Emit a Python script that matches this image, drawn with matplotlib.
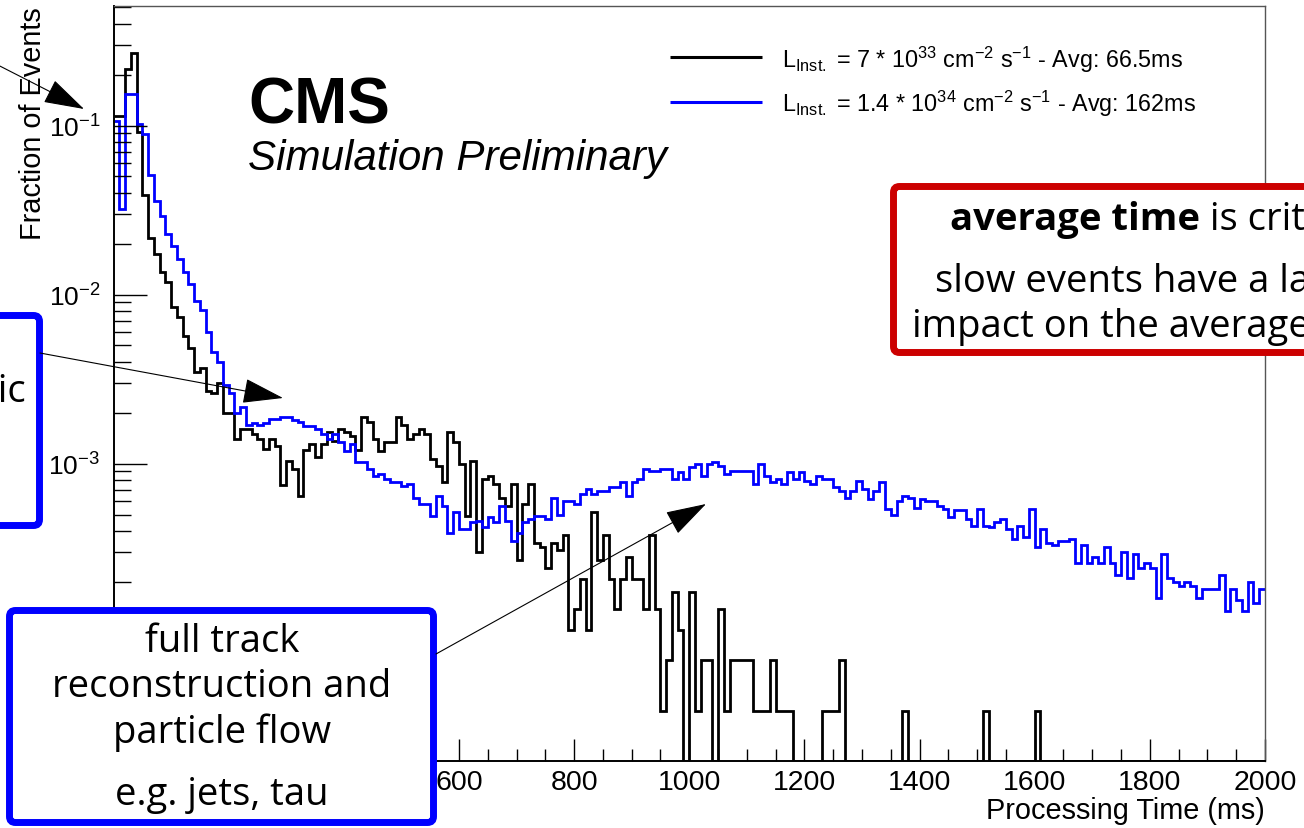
import numpy as np
import matplotlib
matplotlib.use("Agg")
import matplotlib.pyplot as plt
from matplotlib.patches import FancyBboxPatch
from matplotlib.ticker import MultipleLocator, LogLocator, NullFormatter, FuncFormatter

plt.rcParams['font.family'] = ['Liberation Sans', 'DejaVu Sans']
plt.rcParams['mathtext.fontset'] = 'custom'
plt.rcParams['mathtext.rm'] = 'Liberation Sans'
plt.rcParams['mathtext.it'] = 'Liberation Sans:italic'
plt.rcParams['mathtext.bf'] = 'Liberation Sans:bold'
plt.rcParams['axes.unicode_minus'] = False

# histogram binning: 10 ms bins, 0 - 2000 ms
bin_edges = np.arange(0, 2001, 10)

# fraction of events per bin, L = 7e33
frac_7e33 = [
    0.114, 0.114, 0.216, 0.27, 0.0915, 0.0386, 0.0215, 0.0174, 0.0136, 0.0119,
    0.0085, 0.0074, 0.0057, 0.0048, 0.0035, 0.0037, 0.0027, 0.0026, 0.0030, 0.0020,
    0.0020, 0.0014, 0.0016, 0.0016, 0.0015, 0.0014, 0.00122, 0.0014, 0.00128, 0.00075,
    0.00104, 0.00093, 0.00064, 0.0012, 0.0013, 0.0011, 0.0013, 0.00154, 0.00137, 0.0016,
    0.00154, 0.00145, 0.0012, 0.0019, 0.00176, 0.0014, 0.00118, 0.00134, 0.00134, 0.0019,
    0.0017, 0.0014, 0.0015, 0.0016, 0.0015, 0.00107, 0.00097, 0.00078, 0.00154, 0.00134,
    0.0010, 0.00049, 0.00104, 0.00030, 0.00081, 0.00084, 0.00076, 0.00063, 0.00056, 0.00076,
    0.00027, 0.00058, 0.00076, 0.00034, 0.00032, 0.00024, 0.00034, 0.00031, 0.00038, 0.000104,
    0.000138, 0.000208, 0.000104, 0.00052, 0.00027, 0.00038, 0.000208, 0.000138, 0.000208, 0.00028,
    0.000208, 0.000208, 0.000138, 0.00038, 0.000138, 3.46e-5, 6.9e-5, 0.000173, 0.000104, 0,
    0.000173, 3.46e-5, 6.9e-5, 6.9e-5, 0, 0.000138, 3.46e-5, 6.9e-5, 6.9e-5, 6.9e-5,
    6.9e-5, 3.46e-5, 3.46e-5, 3.46e-5, 6.9e-5, 3.46e-5, 3.46e-5, 3.46e-5, 0, 0,
    0, 0, 0, 3.46e-5, 3.46e-5, 3.46e-5, 6.9e-5, 0, 0, 0,
    0, 0, 0, 0, 0, 0, 0, 3.46e-5, 0, 0,
    0, 0, 0, 0, 0, 0, 0, 0, 0, 0,
    0, 3.46e-5, 0, 0, 0, 0, 0, 0, 0, 0,
    3.46e-5, 0, 0, 0, 0, 0, 0, 0, 0, 0,
    0, 0, 0, 0, 0, 0, 0, 0, 0, 0,
    0, 0, 0, 0, 0, 0, 0, 0, 0, 0,
    0, 0, 0, 0, 0, 0, 0, 0, 0, 0,
]

# fraction of events per bin, L = 1.4e34
frac_14e34 = [
    0.107, 0.032, 0.154, 0.154, 0.102, 0.089, 0.051, 0.036, 0.029, 0.0229,
    0.0195, 0.0162, 0.0136, 0.0116, 0.0092, 0.0081, 0.0060, 0.0046, 0.0040, 0.0029,
    0.0026, 0.00198, 0.00216, 0.0017, 0.00175, 0.0017, 0.00175, 0.00184, 0.00184, 0.0019,
    0.0019, 0.0018, 0.00176, 0.00166, 0.00166, 0.0016, 0.0015, 0.0014, 0.0015, 0.00135,
    0.00118, 0.0013, 0.00102, 0.00102, 0.00093, 0.00084, 0.00087, 0.00081, 0.00078, 0.00078,
    0.00074, 0.00076, 0.00063, 0.00058, 0.00058, 0.00049, 0.00064, 0.00056, 0.00039, 0.00052,
    0.00041, 0.00041, 0.00045, 0.00046, 0.00042, 0.00048, 0.00045, 0.00056, 0.00046, 0.00035,
    0.00039, 0.00045, 0.00047, 0.00049, 0.00049, 0.00047, 0.00063, 0.0005, 0.0006, 0.0006,
    0.00058, 0.00066, 0.00071, 0.00066, 0.00069, 0.00069, 0.00073, 0.00073, 0.00078, 0.00064,
    0.00078, 0.00081, 0.00093, 0.0009, 0.0009, 0.00093, 0.00093, 0.00081, 0.00089, 0.00081,
    0.00095, 0.001, 0.00084, 0.001, 0.00102, 0.00097, 0.00087, 0.0009, 0.0009, 0.0009,
    0.0009, 0.00076, 0.001, 0.00084, 0.00078, 0.00081, 0.00076, 0.00089, 0.00081, 0.00089,
    0.00079, 0.00076, 0.00084, 0.00081, 0.00081, 0.00073, 0.00069, 0.00063, 0.00069, 0.00079,
    0.00071, 0.00062, 0.00069, 0.00078, 0.00054, 0.0005, 0.0006, 0.00064, 0.00063, 0.00055,
    0.00062, 0.0006, 0.0006, 0.00056, 0.00054, 0.00048, 0.00053, 0.00053, 0.00047, 0.00043,
    0.00054, 0.00043, 0.00042, 0.00045, 0.00047, 0.00041, 0.00036, 0.00043, 0.00037, 0.00054,
    0.00032, 0.00041, 0.00034, 0.00033, 0.00035, 0.00035, 0.00036, 0.00026, 0.00033, 0.00026,
    0.00028, 0.00026, 0.00032, 0.00026, 0.00022, 0.0003, 0.00021, 0.00029, 0.00024, 0.00026,
    0.00024, 0.00016, 0.00029, 0.00021, 0.0002, 0.00019, 0.0002, 0.00019, 0.00016, 0.00018,
    0.00018, 0.00018, 0.00022, 0.000135, 0.00018, 0.000155, 0.000135, 0.0002, 0.00015, 0.00018,
]

series_labels = [
    r'$\mathregular{L_{Inst.}}$ = 7 * 10$^{33}$ cm$^{-2}$ s$^{-1}$ - Avg: 66.5ms',
    r'$\mathregular{L_{Inst.}}$ = 1.4 * 10$^{34}$ cm$^{-2}$ s$^{-1}$ - Avg: 162ms',
]
series_colors = ['black', '#0000ff']

ymin, ymax = 1.74e-5, 0.51

W, H = 1304, 829
fig = plt.figure(figsize=(W / 100, H / 100), dpi=100)
ax = fig.add_axes([113.5 / W, 67 / H, 1151.5 / W, 755 / H])

for vals, col in zip([frac_7e33, frac_14e34], series_colors):
    v = np.asarray(vals, dtype=float)
    v = np.where(v > 0, v, ymin)  # empty bins drawn on the frame, as ROOT does
    ax.stairs(v, bin_edges, color=col, lw=2.0, baseline=None)

ax.set_yscale('log')
ax.set_xlim(0, 2000)
ax.set_ylim(ymin, ymax)

ax.xaxis.set_major_locator(MultipleLocator(200))
ax.xaxis.set_minor_locator(MultipleLocator(50))
# labels left of 600 sit under the slide box anyway
ax.xaxis.set_major_formatter(FuncFormatter(lambda x, pos: '' if x < 600 else f'{x:.0f}'))
ax.yaxis.set_minor_locator(LogLocator(base=10, subs=np.arange(2, 10)))
ax.yaxis.set_minor_formatter(NullFormatter())

ax.tick_params(axis='both', which='both', direction='in', top=False, right=False,
               width=1.0, colors='black')
ax.tick_params(axis='x', which='major', length=16, pad=6, labelsize=20.5)
ax.tick_params(axis='x', which='minor', length=9)
ax.tick_params(axis='y', which='major', length=24, pad=9.5, labelsize=19)
ax.tick_params(axis='y', which='minor', length=12)

for s in ['left', 'bottom']:
    ax.spines[s].set_linewidth(1.4)
for s in ['top', 'right']:
    ax.spines[s].set_linewidth(1.0)
    ax.spines[s].set_color('#555555')

ax.set_ylabel('Fraction of Events', fontsize=20.8, loc='top')
ax.yaxis.set_label_coords(-0.058, 1.0)
ax.set_xlabel('Processing Time (ms)', fontsize=20.8, loc='right')
ax.xaxis.set_label_coords(1.0, -0.046)

# overlay in pixel units for the slide annotations
ov = fig.add_axes([0, 0, 1, 1])
ov.set_xlim(0, W)
ov.set_ylim(H, 0)
ov.axis('off')
ov.patch.set_visible(False)

ov.text(248, 123, 'CMS', fontsize=46, fontweight='bold', va='baseline', ha='left')
ov.text(248, 170, 'Simulation Preliminary', fontsize=30.3, style='italic',
        va='baseline', ha='left')

# legend
for (yl, yt), lab, col in zip([(57.5, 68), (102.5, 112)], series_labels, series_colors):
    ov.plot([670, 762], [yl, yl], color=col, lw=2.2, solid_capstyle='butt')
    ov.text(782, yt, lab, fontsize=16.8, va='baseline', ha='left')

slide_font = 'Open Sans'

# boxes
ov.add_patch(FancyBboxPatch((893.5, 187.5), 600, 166, boxstyle='round,pad=0,rounding_size=6',
                            fc='white', ec='#cc0000', lw=5, zorder=5))
ov.add_patch(FancyBboxPatch((-60, 316.5), 99.5, 210, boxstyle='round,pad=0,rounding_size=6',
                            fc='white', ec='#0000ff', lw=5, zorder=5))
ov.add_patch(FancyBboxPatch((9.5, 611.5), 424, 212, boxstyle='round,pad=0,rounding_size=6',
                            fc='white', ec='#0000ff', lw=5, zorder=5))

t1 = ov.text(950, 230, 'average time', fontsize=27.5, family=slide_font, fontweight='bold',
             va='baseline', ha='left', zorder=6)
fig.canvas.draw()
bb = t1.get_window_extent(fig.canvas.get_renderer())
ov.text(bb.x1, 230, ' is critical', fontsize=27.5, family=slide_font,
        va='baseline', ha='left', zorder=6)
ov.text(935, 292, 'slow events have a larger', fontsize=27.5, family=slide_font,
        va='baseline', ha='left', zorder=6)
ov.text(912, 337, 'impact on the average time', fontsize=27.5, family=slide_font,
        va='baseline', ha='left', zorder=6)

ov.text(27, 402, 'electromagnetic', fontsize=27.5, family=slide_font,
        va='baseline', ha='right', zorder=6)

for yb, line in zip([652, 697, 743, 805],
                    ['full track', 'reconstruction and', 'particle flow', 'e.g. jets, tau']):
    ov.text(222, yb, line, fontsize=27.5, family=slide_font, va='baseline', ha='center',
            zorder=6)

# arrows
arrow_kw = dict(arrowstyle='-|>,head_length=1.3,head_width=0.4', mutation_scale=20,
                lw=0.8, color='black', shrinkA=0, shrinkB=0)
ov.annotate('', xy=(84, 110), xytext=(-10, 62), arrowprops=arrow_kw, zorder=7)
ov.annotate('', xy=(283, 399), xytext=(40, 354), arrowprops=arrow_kw, zorder=7)
ov.annotate('', xy=(706, 505), xytext=(436, 655), arrowprops=arrow_kw, zorder=7)

fig.savefig('out.png', dpi=100)
